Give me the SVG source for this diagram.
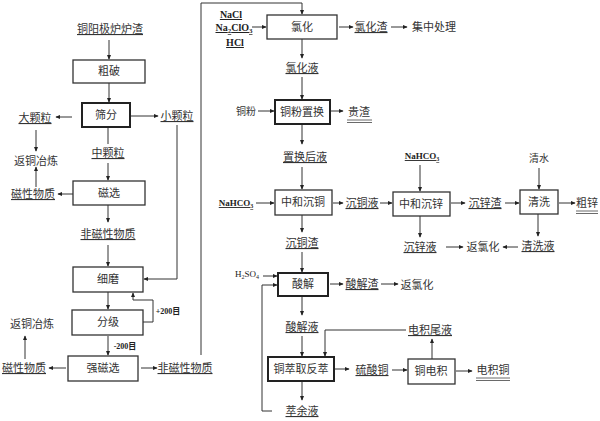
<svg xmlns="http://www.w3.org/2000/svg" width="600" height="421" viewBox="0 0 600 421">
<defs>
<marker id="ah" viewBox="0 0 8 8" refX="7" refY="4" markerWidth="5" markerHeight="5" orient="auto" markerUnits="userSpaceOnUse">
<path d="M0,0.5 L8,4 L0,7.5 Z" fill="#222"/>
</marker>
<style>
text{font-family:"Liberation Serif","Noto Sans CJK SC",serif;font-size:11px;fill:#333;text-anchor:middle}
.lat{font-weight:bold;font-size:9px;fill:#222}
.u{text-decoration:underline}
.box{fill:#fff;stroke:#333;stroke-width:1.3}
.bx{fill:#fff;stroke:#222;stroke-width:2}
.c line,.c polyline{stroke:#333;stroke-width:1;fill:none;marker-end:url(#ah)}
.c .n{marker-end:none}
.dl{stroke:#444;stroke-width:0.8}
</style>
</defs>
<rect width="600" height="421" fill="#fff"/>

<g class="c" id="connectors">
<line x1="109" y1="40" x2="109" y2="59"/>
<line x1="109" y1="83" x2="109" y2="102"/>
<line x1="72" y1="117" x2="56" y2="117"/>
<line x1="131" y1="116" x2="158" y2="116"/>
<line x1="36" y1="130" x2="36" y2="151"/>
<line x1="36" y1="187" x2="36" y2="167"/>
<line x1="73" y1="194" x2="58" y2="194"/>
<line class="n" x1="108" y1="127" x2="108" y2="144"/>
<line x1="108" y1="163" x2="108" y2="180"/>
<line x1="108" y1="205" x2="108" y2="222"/>
<line x1="108" y1="245" x2="108" y2="266"/>
<polyline points="177,125 177,279 144,279"/>
<line x1="108" y1="292" x2="108" y2="309"/>
<polyline points="143,322 153,322 153,300 133,300 133,293"/>
<line x1="108" y1="336" x2="108" y2="355"/>
<line x1="66" y1="368" x2="49" y2="368"/>
<line x1="25" y1="359" x2="25" y2="336"/>
<line x1="141" y1="368" x2="157" y2="368"/>
<polyline points="201,355 201,3 302,3 302,14"/>

<line x1="252" y1="27" x2="266" y2="27"/>
<line x1="339" y1="27" x2="353" y2="27"/>
<line x1="391" y1="27" x2="407" y2="27"/>
<line x1="302" y1="39" x2="302" y2="58"/>
<line x1="302" y1="77" x2="302" y2="99"/>
<line x1="258" y1="111" x2="274" y2="111"/>
<line x1="331" y1="111" x2="343" y2="111"/>
<line x1="302" y1="124" x2="302" y2="144"/>
<line x1="302" y1="167" x2="302" y2="189"/>
<line x1="256" y1="203" x2="274" y2="203"/>
<line x1="333" y1="203" x2="343" y2="203"/>
<line x1="380" y1="203" x2="392" y2="203"/>
<line x1="420" y1="165" x2="420" y2="191"/>
<line x1="451" y1="203" x2="465" y2="203"/>
<line x1="505" y1="203" x2="519" y2="203"/>
<line x1="539" y1="168" x2="539" y2="189"/>
<line x1="559" y1="203" x2="575" y2="203"/>
<line x1="420" y1="216" x2="420" y2="237"/>
<line x1="446" y1="247" x2="463" y2="247"/>
<line x1="518" y1="247" x2="503" y2="247"/>
<line x1="538" y1="214" x2="538" y2="236"/>
<line x1="302" y1="215" x2="302" y2="232"/>
<line x1="302" y1="252" x2="302" y2="272"/>
<line x1="263" y1="276" x2="277" y2="276"/>
<polyline points="272,411 262,411 262,285 277,285"/>
<line x1="330" y1="284" x2="343" y2="284"/>
<line x1="381" y1="284" x2="398" y2="284"/>
<line x1="302" y1="296" x2="302" y2="315"/>
<line x1="302" y1="336" x2="302" y2="356"/>
<polyline points="406,330 325,330 325,356"/>
<line x1="334" y1="369" x2="349" y2="369"/>
<line x1="392" y1="370" x2="407" y2="370"/>
<line x1="432" y1="359" x2="432" y2="339"/>
<line x1="456" y1="371" x2="472" y2="371"/>
<line x1="302" y1="381" x2="302" y2="400"/>
</g>

<g id="n-source"><text x="110" y="33" class="u">铜阳极炉炉渣</text></g>
<g id="n-cupo"><rect class="box" x="73" y="60" width="72" height="23"/><text x="109" y="75">粗破</text></g>
<g id="n-shaifen"><rect class="bx" x="82" y="103" width="48" height="24"/><text x="106" y="119">筛分</text></g>
<g id="n-dakeli"><text x="35" y="122" class="u">大颗粒</text></g>
<g id="n-xiaokeli"><text x="177" y="120" class="u">小颗粒</text></g>
<g id="n-fantong1"><text x="36" y="165">返铜冶炼</text></g>
<g id="n-zhongkeli"><text x="108" y="157" class="u">中颗粒</text></g>
<g id="n-cixuan"><rect class="box" x="73" y="181" width="72" height="24"/><text x="109" y="197">磁选</text></g>
<g id="n-cixing1"><text x="33" y="198" class="u">磁性物质</text></g>
<g id="n-feicixing1"><text x="108" y="238" class="u">非磁性物质</text></g>
<g id="n-ximo"><rect class="box" x="73" y="267" width="70" height="25"/><text x="108" y="283">细磨</text></g>
<g id="n-fenji"><rect class="box" x="72" y="310" width="71" height="25"/><text x="108" y="326">分级</text></g>
<g id="n-plus200"><text x="168" y="314" class="lat" style="font-size:8px">+200目</text></g>
<g id="n-minus200"><text x="125" y="349" class="lat" style="font-size:8px">-200目</text></g>
<g id="n-qiangcixuan"><rect class="box" x="68" y="356" width="70" height="25"/><text x="103" y="372">强磁选</text></g>
<g id="n-fantong2"><text x="32" y="328">返铜冶炼</text></g>
<g id="n-cixing2"><text x="24" y="372" class="u">磁性物质</text></g>
<g id="n-feicixing2"><text x="185" y="372" class="u">非磁性物质</text></g>

<g id="n-reagents1">
<text x="231" y="18" class="lat u" style="font-size:10px">NaCl</text>
<text x="234" y="31" class="lat u" style="font-size:10px">Na<tspan font-size="7" dy="2">2</tspan><tspan dy="-2">ClO</tspan><tspan font-size="7" dy="2">3</tspan></text>
<text x="235" y="46" class="lat u" style="font-size:10px">HCl</text>
</g>
<g id="n-lvhua"><rect class="box" x="267" y="15" width="70" height="24"/><text x="302" y="31">氯化</text></g>
<g id="n-lvhuazha"><text x="371" y="31" class="u">氯化渣</text></g>
<g id="n-jizhong"><text x="434" y="31">集中处理</text></g>
<g id="n-lvhuaye"><text x="302" y="72" class="u">氯化液</text></g>
<g id="n-tongfen"><text x="246" y="115" style="font-size:10px">铜粉</text></g>
<g id="n-zhihuan"><rect class="bx" x="275" y="100" width="55" height="24"/><text x="302" y="116">铜粉置换</text></g>
<g id="n-guizha"><text x="359" y="116">贵渣</text><line class="dl" x1="347" y1="120" x2="372" y2="120"/><line class="dl" x1="347" y1="122.5" x2="372" y2="122.5"/></g>
<g id="n-zhihuanhouye"><text x="305" y="161" class="u">置换后液</text></g>
<g id="n-nahco3a"><text x="236" y="206" class="lat u">NaHCO<tspan font-size="6" dy="2">3</tspan></text></g>
<g id="n-chentong"><rect class="box" x="275" y="190" width="57" height="25"/><text x="303" y="206">中和沉铜</text></g>
<g id="n-chentongye"><text x="362" y="207" class="u">沉铜液</text></g>
<g id="n-nahco3b"><text x="422" y="159" class="lat u">NaHCO<tspan font-size="6" dy="2">3</tspan></text></g>
<g id="n-chenxin"><rect class="box" x="393" y="192" width="57" height="24"/><text x="421" y="208">中和沉锌</text></g>
<g id="n-chenxinzha"><text x="485" y="207" class="u">沉锌渣</text></g>
<g id="n-qingshui"><text x="539" y="162" style="font-size:10px">清水</text></g>
<g id="n-qingxi"><rect class="box" x="520" y="190" width="38" height="24"/><text x="539" y="206">清洗</text></g>
<g id="n-cuxin"><text x="587" y="207">粗锌</text><line class="dl" x1="576" y1="211" x2="598" y2="211"/><line class="dl" x1="576" y1="213.5" x2="598" y2="213.5"/></g>
<g id="n-chenxinye"><text x="420" y="251" class="u">沉锌液</text></g>
<g id="n-fanlvhua1"><text x="483" y="251">返氯化</text></g>
<g id="n-qingxiye"><text x="538" y="250" class="u">清洗液</text></g>
<g id="n-chentongzha"><text x="302" y="247" class="u">沉铜渣</text></g>
<g id="n-h2so4"><text x="247" y="277" class="lat" style="font-weight:normal">H<tspan font-size="6" dy="2">2</tspan><tspan dy="-2">SO</tspan><tspan font-size="6" dy="2">4</tspan></text></g>
<g id="n-suanjie"><rect class="bx" x="278" y="273" width="50" height="23"/><text x="303" y="288">酸解</text></g>
<g id="n-suanjiezha"><text x="362" y="288" class="u">酸解渣</text></g>
<g id="n-fanlvhua2"><text x="417" y="289">返氯化</text></g>
<g id="n-suanjieye"><text x="302" y="331" class="u">酸解液</text></g>
<g id="n-dianjiweiye"><text x="430" y="334" class="u">电积尾液</text></g>
<g id="n-cuiqu"><rect class="bx" x="268" y="357" width="66" height="24"/><text x="301" y="373">铜萃取反萃</text></g>
<g id="n-liusuantong"><text x="372" y="374" class="u">硫酸铜</text></g>
<g id="n-dianji"><rect class="box" x="408" y="359" width="47" height="25"/><text x="431" y="375">铜电积</text></g>
<g id="n-dianjitong"><text x="493" y="374">电积铜</text><line class="dl" x1="476" y1="378" x2="510" y2="378"/><line class="dl" x1="476" y1="380.5" x2="510" y2="380.5"/></g>
<g id="n-cuiyuye"><text x="302" y="415" class="u">萃余液</text></g>
</svg>
